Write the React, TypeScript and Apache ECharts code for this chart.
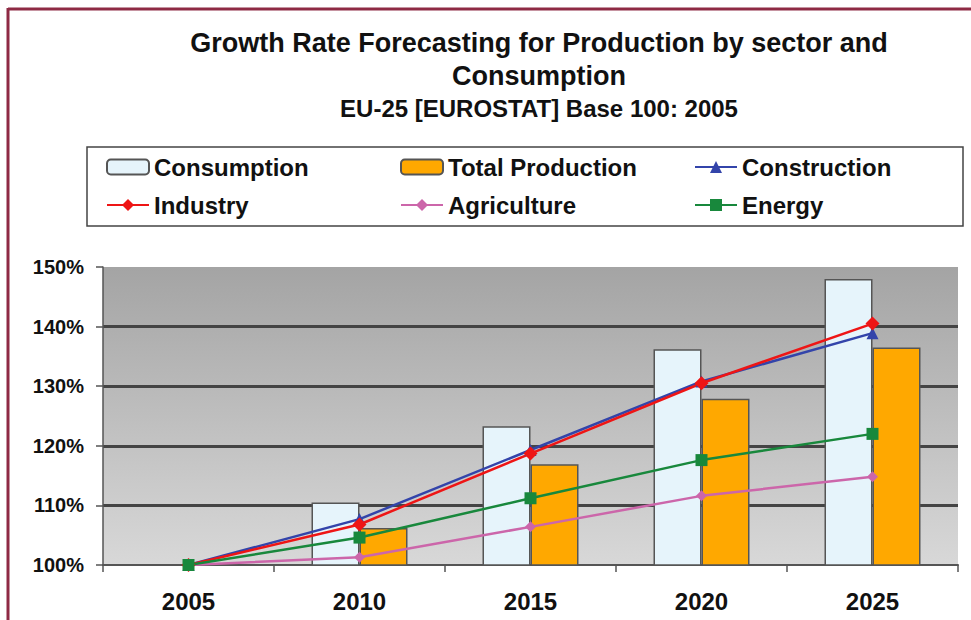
import React, { useEffect, useRef } from "react";
import * as echarts from "echarts";

const years = ["2005", "2010", "2015", "2020", "2025"];
const consumption = [100, 110.5, 123.3, 136.2, 148.0];
const totalProduction = [100, 106.2, 116.9, 127.9, 136.5];
const construction = [100, 107.7, 119.3, 130.8, 138.9];
const industry = [100, 106.8, 118.7, 130.5, 140.5];
const agriculture = [100, 101.3, 106.4, 111.6, 114.8];
const energy = [100, 104.6, 111.2, 117.6, 122.0];

const FONT = "'Liberation Sans', Arial, sans-serif";

export default function App() {
  const ref = useRef<HTMLDivElement>(null);
  useEffect(() => {
    if (!ref.current) return;
    const chart = echarts.init(ref.current, null, { renderer: "svg" });
    const legendText = { fontFamily: FONT, fontWeight: "bold" as const, fontSize: 24, color: "#111", lineHeight: 26 };
    const legendCommon = {
      orient: "vertical" as const,
      top: 154,
      padding: 0,
      itemGap: 12,
      itemWidth: 42,
      itemHeight: 15,
      textStyle: legendText,
    };
    chart.setOption({
      animation: false,
      backgroundColor: "#ffffff",
      title: [
        {
          text: "Growth Rate Forecasting for Production by sector and\nConsumption",
          left: 534,
          top: 21,
          textAlign: "center",
          textStyle: { fontFamily: FONT, fontWeight: "bold", fontSize: 27, lineHeight: 33, color: "#111" },
        },
        {
          text: "EU-25 [EUROSTAT] Base 100: 2005",
          left: 534,
          top: 90,
          textAlign: "center",
          textStyle: { fontFamily: FONT, fontWeight: "bold", fontSize: 24, lineHeight: 26, color: "#111" },
        },
      ],
      graphic: [
        {
          type: "line",
          shape: { x1: 8, y1: 9, x2: 971, y2: 9 },
          style: { stroke: "#8e2a44", lineWidth: 3 },
        },
        {
          type: "line",
          shape: { x1: 8, y1: 8, x2: 8, y2: 620 },
          style: { stroke: "#8e2a44", lineWidth: 3 },
        },
        {
          type: "rect",
          shape: { x: 87, y: 147, width: 876, height: 79 },
          style: { fill: "#ffffff", stroke: "#444", lineWidth: 1.5 },
          z: -1,
        },
      ],
      legend: [
        { ...legendCommon, left: 106, data: ["Consumption", "Industry"] },
        { ...legendCommon, left: 400, data: ["Total Production", "Agriculture"] },
        { ...legendCommon, left: 694, data: ["Construction", "Energy"] },
      ],
      grid: {
        left: 103,
        top: 267,
        right: 13,
        bottom: 55,
        show: true,
        borderWidth: 0,
        backgroundColor: new echarts.graphic.LinearGradient(0, 0, 0, 1, [
          { offset: 0, color: "#a4a4a4" },
          { offset: 1, color: "#d8d8d8" },
        ]),
      },
      xAxis: {
        type: "category",
        data: years,
        boundaryGap: true,
        axisLine: { lineStyle: { color: "#555", width: 2 } },
        axisTick: { show: true, length: 7, lineStyle: { color: "#555", width: 1.5 } },
        axisLabel: { fontFamily: FONT, fontWeight: "bold", fontSize: 24, color: "#111", margin: 24 },
      },
      yAxis: {
        type: "value",
        min: 100,
        max: 150,
        interval: 10,
        axisLine: { show: true, lineStyle: { color: "#555", width: 1.5 } },
        axisTick: { show: true, length: 7, lineStyle: { color: "#555", width: 1.5 } },
        axisLabel: {
          fontFamily: FONT,
          fontWeight: "bold",
          fontSize: 20,
          color: "#111",
          margin: 19,
          formatter: "{value}%",
        },
        splitLine: { show: true, showMaxLine: false, showMinLine: false, lineStyle: { color: "#444", width: 3 } },
      },
      series: [
        {
          name: "Consumption",
          type: "bar",
          data: consumption,
          barWidth: 48,
          barGap: "0%",
          itemStyle: { color: "#e6f4fb", borderColor: "#555", borderWidth: 1.5 },
        },
        {
          name: "Total Production",
          type: "bar",
          data: totalProduction,
          barWidth: 48,
          barGap: "0%",
          itemStyle: { color: "#ffa800", borderColor: "#555", borderWidth: 1.5 },
        },
        {
          name: "Construction",
          type: "line",
          data: construction,
          symbol: "triangle",
          symbolSize: 12,
          lineStyle: { color: "#3344aa", width: 2.5 },
          itemStyle: { color: "#3344aa" },
        },
        {
          name: "Industry",
          type: "line",
          data: industry,
          symbol: "diamond",
          symbolSize: 14,
          lineStyle: { color: "#ee1515", width: 2.5 },
          itemStyle: { color: "#ee1515" },
        },
        {
          name: "Agriculture",
          type: "line",
          data: agriculture,
          symbol: "diamond",
          symbolSize: 11,
          lineStyle: { color: "#cc66aa", width: 2.5 },
          itemStyle: { color: "#cc66aa" },
        },
        {
          name: "Energy",
          type: "line",
          data: energy,
          symbol: "rect",
          symbolSize: 12,
          lineStyle: { color: "#18883c", width: 2.5 },
          itemStyle: { color: "#18883c" },
        },
      ],
    });
    return () => chart.dispose();
  }, []);
  return (
    <div
      ref={ref}
      style={{ position: "absolute", left: 0, top: 0, width: 971, height: 620, background: "#fff" }}
    />
  );
}
